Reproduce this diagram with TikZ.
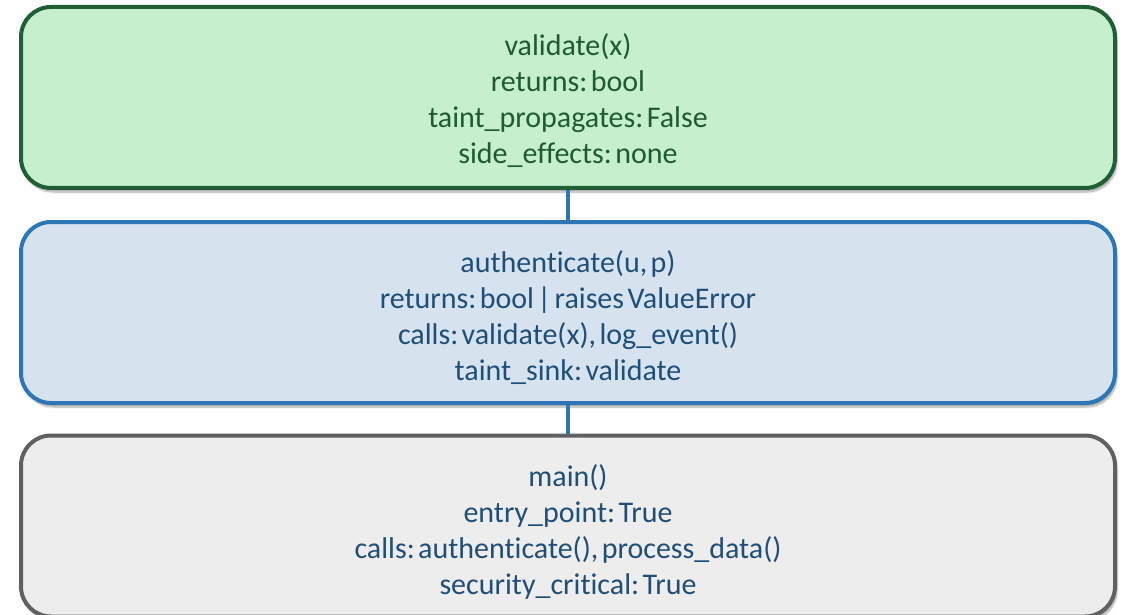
\documentclass[tikz,border=0pt]{standalone}
\usepackage{fontspec}
\setmainfont{Carlito}[Ligatures=NoCommon, WordSpace=0.5]
\frenchspacing
\usetikzlibrary{shadows.blur}
\definecolor{gfill}{HTML}{C6EFCE}
\definecolor{gline}{HTML}{1F5F33}
\definecolor{gtext}{HTML}{1E5B2F}
\definecolor{bfill}{HTML}{D6E3EF}
\definecolor{bline}{HTML}{2E75B6}
\definecolor{btext}{HTML}{1F4E79}
\definecolor{kfill}{HTML}{EDEDED}
\definecolor{kline}{HTML}{606060}
\tikzset{
  fnbox/.style={rectangle, rounded corners=30pt, line width=4pt,
    minimum width=1094pt, minimum height=181pt,
    blur shadow={shadow xshift=2pt, shadow yshift=-4pt, shadow blur steps=6, shadow opacity=35}},
  fntext/.style={align=center, font=\frenchspacing\fontsize{30}{36}\selectfont},
  link/.style={draw=bline, line width=4pt}
}
\begin{document}
\frenchspacing
\begin{tikzpicture}[x=1pt, y=-1pt]
\useasboundingbox (0,0) rectangle (1125,615);
% function boxes
\node[fnbox, draw=gline, fill=gfill] (validate) at (568,97.5) {};
\node[fntext, text=gtext] (validatetxt) at (568,101)
  {validate(x)\\returns: bool\\taint\_propagates: False\\side\_effects: none};
\node[fnbox, draw=bline, fill=bfill] (auth) at (568,312.5) {};
\node[fntext, text=btext] (authtxt) at (568,318)
  {authenticate(u, p)\\returns: bool | raises ValueError\\calls: validate(x), log\_event()\\taint\_sink: validate};
\node[fnbox, draw=kline, fill=kfill] (main) at (568,526) {};
\node[fntext, text=btext] (maintxt) at (568,532)
  {main()\\entry\_point: True\\calls: authenticate(), process\_data()\\security\_critical: True};
% call links
\draw[link] (validate.south) -- (auth.north);
\draw[link] (auth.south) -- (main.north);
\end{tikzpicture}
\end{document}
